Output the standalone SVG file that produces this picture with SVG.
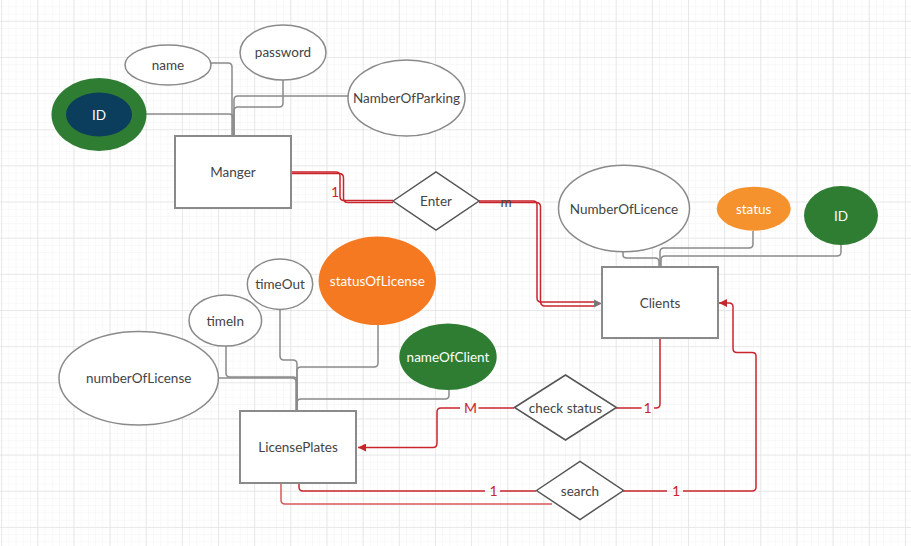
<svg xmlns="http://www.w3.org/2000/svg" width="911" height="546" viewBox="0 0 911 546">
<style>
  .ent { fill: #ffffff; stroke: #8a8a8a; stroke-width: 2; }
  .attr { fill: #ffffff; stroke: #8a8a8a; stroke-width: 1.5; }
  .rel { fill: #ffffff; stroke: #555555; stroke-width: 1.5; }
  .t { font-family: Lato, "Liberation Sans", sans-serif; font-size: 13.5px; fill: #444444; text-anchor: middle; }
  .w { fill: #ffffff; }
  .gl { fill: none; stroke: #8a8a8a; stroke-width: 1.5; }
  .rl { fill: none; stroke: #c9252c; stroke-width: 1.5; }
  .rl2 { fill: none; stroke: #d9575c; stroke-width: 1.5; }
  .lbl { font-family: Lato, "Liberation Sans", sans-serif; font-size: 14px; fill: #c9252c; text-anchor: middle; }
</style>
<defs>
  <pattern id="minor" patternUnits="userSpaceOnUse" x="1.15" y="20.8" width="7.23" height="7.23">
    <path d="M0,0 H7.23 M0,0 V7.23" stroke="#f2f2f2" stroke-width="1" fill="none"/>
  </pattern>
  <pattern id="major" patternUnits="userSpaceOnUse" x="1.15" y="20.8" width="36.15" height="36.15">
    <path d="M0,0 H36.15 M0,0 V36.15" stroke="#e3e3e3" stroke-width="1.5" fill="none"/>
  </pattern>
  <marker id="arrRed" markerWidth="8" markerHeight="8" refX="8" refY="4" orient="auto" markerUnits="userSpaceOnUse">
    <path d="M0,0 L8,4 L0,8 Z" fill="#c9252c"/>
  </marker>
</defs>
<rect width="911" height="546" fill="#ffffff"/>
<rect width="911" height="546" fill="url(#minor)"/>
<rect width="911" height="546" fill="url(#major)"/>

<g id="connectors">
  <!-- Manger attributes -->
  <path class="gl" d="M211,63 H228 Q232,63 232,67 V136"/>
  <path class="gl" d="M283,80 V103 Q283,107 279,107 H238 Q234,107 234,111 V136"/>
  <path class="gl" d="M348,96 H238 Q234,96 234,100 V136"/>
  <path class="gl" d="M132,114 H229 Q233,114 233,118 V136"/>
  <!-- Clients attributes -->
  <path class="gl" d="M623,252 V255 Q623,258 627,258 H655 Q659,258 659,262 V267"/>
  <path class="gl" d="M753,231 V244 Q753,248 749,248 H664 Q660,248 660,252 V267"/>
  <path class="gl" d="M841,245 V252 Q841,256 837,256 H665 Q661,256 661,260 V267"/>
  <!-- LicensePlates attributes -->
  <path class="gl" d="M218,378 H292 Q296,378 296,382 V411"/>
  <path class="gl" d="M226,346 V373 Q226,377 230,377 H293 Q297,377 297,381 V411"/>
  <path class="gl" d="M280,309 V356 Q280,360 284,360 H293 Q297,360 297,364 V411"/>
  <path class="gl" d="M378,325 V363 Q378,367 374,367 H301 Q297,367 297,371 V411"/>
  <path class="gl" d="M449,390 V395 Q449,399 445,399 H301 Q297,399 297,403 V411"/>
  <!-- Manger - Enter -->
  <path class="rl" d="M291,172 H336 Q340,172 340,176 V196.5 Q340,200.5 344,200.5 H393"/>
  <path class="rl" d="M291,173.5 H339 Q343.5,173.5 343.5,178 V198 Q343.5,202.5 348,202.5 H393"/>
  <!-- Enter - Clients -->
  <path class="rl" d="M479,201 H533 Q537,201 537,205 V298 Q537,302 541,302 H595"/>
  <path class="rl" d="M479,202.5 H536 Q540.5,202.5 540.5,207 V301 Q540.5,306 545,306 H595"/>
  <path d="M594,299.5 L602,303.5 L594,307.5 Z" fill="#777777"/>
  <!-- check status -->
  <path class="rl" d="M514,408 H478.5 M460,408 H441 Q437,408 437,412 V443 Q437,447.5 433,447.5 H358" marker-end="url(#arrRed)"/>
  <path class="rl" d="M616,408 H641.5 M654,408 H656 Q660,408 660,404 V338"/>
  <!-- search -->
  <path class="rl" d="M623,491 H667 M683,491 H752 Q756,491 756,487 V356 Q756,352.5 752,352.5 H737 Q733,352.5 733,348.5 V307 Q733,303 729,303 H719" marker-end="url(#arrRed)"/>
  <path class="rl" d="M536,491 H500 M485,491 H303 Q299,491 299,487 V483"/>
  <path class="rl2" d="M552,504 H285 Q281,504 281,500 V483"/>
  <!-- labels -->
  <text class="lbl" x="335" y="197">1</text>
  <text class="t" x="506" y="207">m</text>
  <text class="lbl" x="470.5" y="413">M</text>
  <text class="lbl" x="647.5" y="413">1</text>
  <text class="lbl" x="493.5" y="496">1</text>
  <text class="lbl" x="676" y="496">1</text>
</g>

<g id="Manger">
  <rect class="ent" x="175" y="136" width="116" height="72"/>
  <text class="t" x="233" y="177">Manger</text>
</g>
<g id="Manger_name">
  <ellipse class="attr" cx="168" cy="65" rx="43" ry="20"/>
  <text class="t" x="168" y="70">name</text>
</g>
<g id="Manger_password">
  <ellipse class="attr" cx="283" cy="52.5" rx="43" ry="27.5"/>
  <text class="t" x="283" y="57">password</text>
</g>
<g id="Manger_NamberOfParking">
  <ellipse class="attr" cx="406.5" cy="98" rx="58.5" ry="38"/>
  <text class="t" x="406.5" y="103">NamberOfParking</text>
</g>
<g id="Manger_ID">
  <ellipse cx="99" cy="114.5" rx="47.5" ry="36.5" fill="#2f7d32"/>
  <ellipse cx="99" cy="114.5" rx="33" ry="22" fill="#0b3d5c"/>
  <text class="t w" x="99" y="119.5">ID</text>
</g>

<g id="Enter">
  <polygon class="rel" points="393,201 436,172 479,201 436,230"/>
  <text class="t" x="436" y="206">Enter</text>
</g>

<g id="Clients">
  <rect class="ent" x="602" y="267" width="116" height="71"/>
  <text class="t" x="660" y="308">Clients</text>
</g>
<g id="Clients_NumberOfLicence">
  <ellipse class="attr" cx="624" cy="208.5" rx="65.5" ry="43.3"/>
  <text class="t" x="624" y="213.5">NumberOfLicence</text>
</g>
<g id="Clients_status">
  <ellipse cx="753.7" cy="208.7" rx="37" ry="22" fill="#f5922e"/>
  <text class="t w" x="753.7" y="213.7">status</text>
</g>
<g id="Clients_ID">
  <ellipse cx="841" cy="215.5" rx="37" ry="29.5" fill="#2e7d32"/>
  <text class="t w" x="841" y="220.5">ID</text>
</g>

<g id="LicensePlates">
  <rect class="ent" x="240" y="411" width="116" height="72"/>
  <text class="t" x="298" y="452">LicensePlates</text>
</g>
<g id="LP_numberOfLicense">
  <ellipse class="attr" cx="138.7" cy="378.3" rx="79.7" ry="46.7"/>
  <text class="t" x="138.7" y="383.3">numberOfLicense</text>
</g>
<g id="LP_timeIn">
  <ellipse class="attr" cx="225.3" cy="320.5" rx="36.3" ry="25.5"/>
  <text class="t" x="225.3" y="325.5">timeIn</text>
</g>
<g id="LP_timeOut">
  <ellipse class="attr" cx="280" cy="284.2" rx="32.7" ry="25.2"/>
  <text class="t" x="280" y="289.2">timeOut</text>
</g>
<g id="LP_statusOfLicense">
  <ellipse cx="377.3" cy="280.8" rx="58.7" ry="44.2" fill="#f47920"/>
  <text class="t w" x="377.3" y="285.8">statusOfLicense</text>
</g>
<g id="LP_nameOfClient">
  <ellipse cx="448" cy="356.7" rx="48.7" ry="33.3" fill="#2e7d32"/>
  <text class="t w" x="448" y="361.7">nameOfClient</text>
</g>

<g id="check_status">
  <polygon class="rel" points="514.5,407.5 565.5,375 616.5,407.5 565.5,440"/>
  <text class="t" x="565.5" y="412.5">check status</text>
</g>
<g id="search">
  <polygon class="rel" points="536.5,490.5 580,461.5 623.5,490.5 580,519.5"/>
  <text class="t" x="580" y="495.5">search</text>
</g>
</svg>
